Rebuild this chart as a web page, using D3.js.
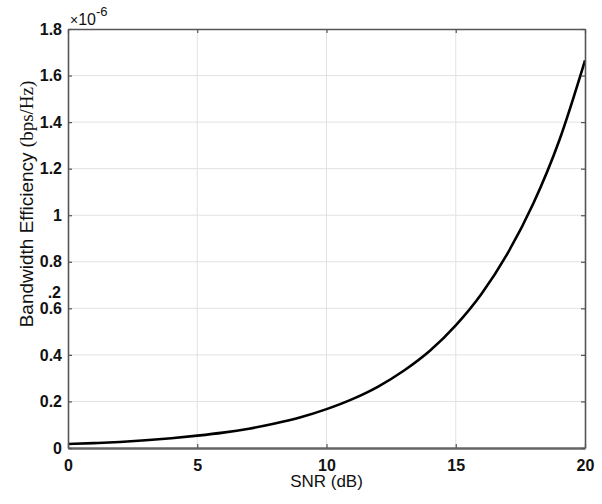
<!DOCTYPE html>
<html>
<head>
<meta charset="utf-8">
<script src="https://cdn.jsdelivr.net/npm/d3@7"></script>
<style>
  html, body { margin: 0; padding: 0; background: #fff; }
  svg { display: block; }
  .tick-label { font-family: "Liberation Sans", Arial, sans-serif; font-size: 16px; font-weight: bold; fill: #111; }
</style>
</head>
<body>
<svg id="chart" width="602" height="504"></svg>
<script>
// SNR (dB) sample points and bandwidth efficiency (in units of 1e-6 bps/Hz)
const snrDb = [0, 1, 2, 3, 4, 5, 6, 7, 8, 9, 10, 11, 12, 13, 14, 15, 16, 17, 18, 19, 20];
const efficiency = [0.017, 0.021, 0.026, 0.033, 0.042, 0.053, 0.066, 0.083, 0.105, 0.132,
                    0.167, 0.210, 0.264, 0.333, 0.418, 0.527, 0.663, 0.835, 1.050, 1.320, 1.665];
const xTicks = [0, 5, 10, 15, 20];
const yTicks = [0, 0.2, 0.4, 0.6, 0.8, 1, 1.2, 1.4, 1.6, 1.8];
const xLabel = "SNR (dB)";
const yLabelMain = "Bandwidth Efficiency ";
const yLabelUnit = "(bps/Hz)";

const plot = { left: 68, top: 29, right: 585, bottom: 448 };
const svg = d3.select("#chart");

const x = d3.scaleLinear().domain([0, 20]).range([plot.left, plot.right]);
const y = d3.scaleLinear().domain([0, 1.8]).range([plot.bottom, plot.top]);

// grid
const grid = svg.append("g").attr("stroke", "#e2e2e2").attr("stroke-width", 1);
grid.selectAll("line.gx").data(xTicks.slice(1, -1)).join("line")
  .attr("x1", d => x(d)).attr("x2", d => x(d))
  .attr("y1", plot.top).attr("y2", plot.bottom);
grid.selectAll("line.gy").data(yTicks.slice(1, -1)).join("line")
  .attr("y1", d => y(d)).attr("y2", d => y(d))
  .attr("x1", plot.left).attr("x2", plot.right);

// curve
const line = d3.line()
  .x((d, i) => x(snrDb[i]))
  .y(d => y(d))
  .curve(d3.curveMonotoneX);
svg.append("path")
  .datum(efficiency)
  .attr("d", line)
  .attr("fill", "none")
  .attr("stroke", "#000")
  .attr("stroke-width", 2.6)
  .attr("stroke-linejoin", "round");

// axes with inward ticks on all four sides
const fmt = d => d3.format("")(+d.toFixed(1));
const axisColor = "#555";
function styleAxis(g) {
  g.selectAll(".domain").attr("stroke", axisColor).attr("stroke-width", 1.6);
  g.selectAll(".tick line").attr("stroke", axisColor).attr("stroke-width", 1.2);
  g.selectAll(".tick text").attr("class", "tick-label");
}
svg.append("g").attr("transform", `translate(0,${plot.bottom})`)
  .call(d3.axisBottom(x).tickValues(xTicks).tickSize(-4).tickSizeOuter(0).tickPadding(9).tickFormat(fmt))
  .call(styleAxis)
  .call(g => g.select(".domain").attr("stroke", "#666").attr("stroke-width", 2.4))
  .call(g => g.selectAll(".tick text").attr("dy", "0.85em"));
svg.append("g").attr("transform", `translate(0,${plot.top})`)
  .call(d3.axisTop(x).tickValues(xTicks).tickSize(-4).tickSizeOuter(0).tickFormat(""))
  .call(styleAxis);
svg.append("g").attr("transform", `translate(${plot.left},0)`)
  .call(d3.axisLeft(y).tickValues(yTicks).tickSize(-4).tickSizeOuter(0).tickPadding(6).tickFormat(fmt))
  .call(styleAxis);
svg.append("g").attr("transform", `translate(${plot.right},0)`)
  .call(d3.axisRight(y).tickValues(yTicks).tickSize(-4).tickSizeOuter(0).tickFormat(""))
  .call(styleAxis);

// exponent marker
const expo = svg.append("text")
  .attr("x", plot.left + 2).attr("y", 25)
  .attr("font-family", "Liberation Sans, Arial, sans-serif")
  .attr("font-size", 16).attr("fill", "#111");
expo.append("tspan").attr("font-size", 14).text("×");
expo.append("tspan").text("10");
expo.append("tspan").attr("dy", -9).attr("font-size", 13).text("-6");

// stray mark near the 0.6 label
svg.append("text")
  .attr("x", 61).attr("y", 298).attr("text-anchor", "end")
  .attr("class", "tick-label").text(".2");

// axis titles
svg.append("text")
  .attr("x", (plot.left + plot.right) / 2).attr("y", 487)
  .attr("text-anchor", "middle")
  .attr("font-family", "Liberation Sans, Arial, sans-serif")
  .attr("font-size", 17).attr("fill", "#111")
  .text(xLabel);

const yl = svg.append("text")
  .attr("transform", "translate(33,204) rotate(-90)")
  .attr("text-anchor", "middle")
  .attr("font-size", 19).attr("fill", "#111");
yl.append("tspan").attr("font-family", "Liberation Sans, Arial, sans-serif").text(yLabelMain);
yl.append("tspan").attr("font-family", "Liberation Serif, Times New Roman, serif").text(yLabelUnit);
</script>
</body>
</html>
